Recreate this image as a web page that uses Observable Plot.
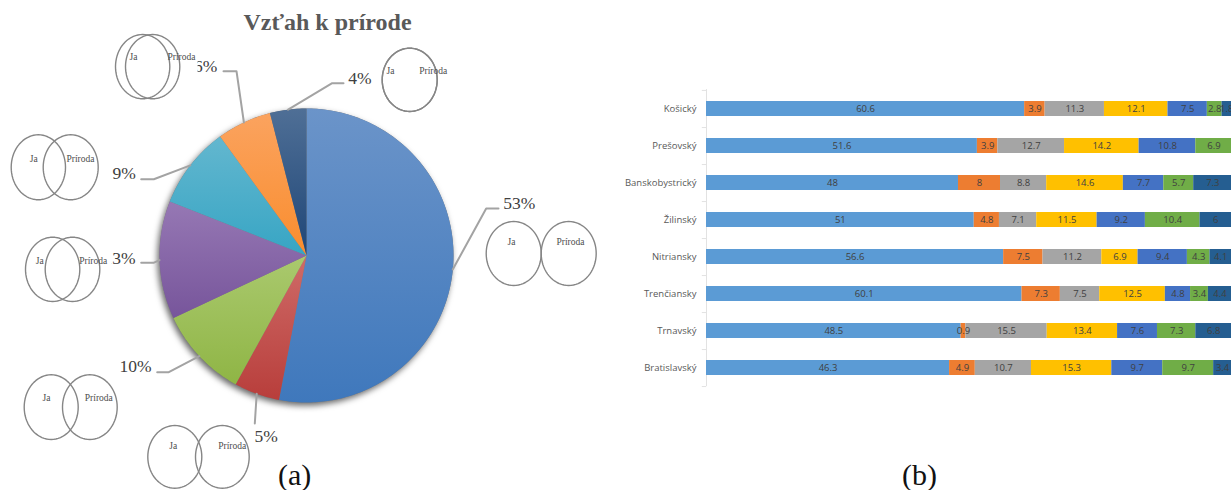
<!DOCTYPE html>
<html lang="sk">
<head>
<meta charset="utf-8">
<script src="https://cdn.jsdelivr.net/npm/d3@7"></script>
<script src="https://cdn.jsdelivr.net/npm/@observablehq/plot@0.6"></script>
<style>
  html, body { margin: 0; padding: 0; background: #fff; overflow: hidden; }
  #page { position: relative; width: 1231px; height: 490px; overflow: hidden; }
  #pie, #bars { position: absolute; top: 0; }
  #pie { left: 0; }
  #bars { left: 620px; }
  svg { display: block; background: transparent; }
  .pie-shadow { filter: drop-shadow(-2px 3px 3px rgba(0,0,0,.6)); }
  .caption { position: absolute; top: 460px; font: 30px/30px "Liberation Serif", serif; color: #111; }
</style>
</head>
<body>
<div id="page">
  <div id="pie"></div>
  <div id="bars"></div>
  <div class="caption" style="left:278px">(a)</div>
  <div class="caption" style="left:902px">(b)</div>
</div>
<script>
// Pie: relationship to nature, one slice per Venn response
const shares = [53, 5, 10, 13, 9, 6, 4];
const sliceTop = ["#6b94c9", "#cf6b68", "#aac96e", "#9678b4", "#63b7cf", "#fba35f", "#4f6f96"];
const sliceBottom = ["#3f78bc", "#b83e3b", "#8fb545", "#77559b", "#37a5c4", "#f98d2e", "#1f4677"];

// Venn glyph for each response: circle extents and label anchors, in chart pixels
const vennLeftX = [[485.7, 540.7], [147.3, 201.3], [23.7, 77.7], [25, 79.3], [10.7, 65], [115, 169.3], [381.7, 436.7]];
const vennRightX = [[540.7, 595.7], [195, 248.7], [62, 116.7], [44.7, 99.3], [42.7, 97.7], [125, 179.3], [381.7, 436.7]];
const vennY = [[221, 285], [425, 487.7], [374.3, 439], [236.7, 301], [134.3, 199.3], [34, 98.3], [47.7, 111]];
const vennJa = [[511, 241], [172.7, 445.7], [46, 397], [39.3, 260], [33.3, 158.3], [133, 56.7], [390, 70.3]];
const vennPriroda = [[570, 241], [231.7, 445.7], [98.3, 397], [92.7, 260], [80, 158], [181, 56], [432.7, 70.3]];
// White patch behind each glyph that hides whatever runs underneath it
const vennPatch = [null, null, null, [25, 111.5], null, [115, 197.5], null];

// Leader elbows and label anchors, in chart pixels
const elbows = [[[485.7, 208], [498, 208]], [[254.3, 423]], [[168.3, 371.7], [156.7, 371.7]], [[153, 262.3], [140.7, 262.3]], [[153.3, 178.7], [140.7, 178.7]], [[236, 70.7], [223, 70.7]], [[331.7, 82.7], [343, 82.7]]];
const labelAt = [[502.7, 203], [254, 436], [119, 366], [103, 258], [112, 173], [193.5, 66], [347.7, 78]];

const cx = 306, cy = 255, radius = 147;
const arcs = d3.pie().sort(null)(shares);
const polar = (a, r) => [cx + r * Math.sin(a), cy - r * Math.cos(a)];

const slicePts = arcs.flatMap((arc, i) => {
  const n = Math.max(4, Math.ceil((arc.endAngle - arc.startAngle) * 60));
  const rim = d3.range(n + 1).map(k => polar(arc.startAngle + (arc.endAngle - arc.startAngle) * k / n, radius));
  return [[cx, cy], ...rim].map(([x, y]) => ({x, y, i}));
});
const rimPts = d3.range(180).map(k => {
  const [x, y] = polar(k / 180 * 2 * Math.PI, radius);
  return {x, y};
});
const leaderPts = arcs.flatMap((arc, i) =>
  [polar((arc.startAngle + arc.endAngle) / 2, radius), ...elbows[i]].map(([x, y]) => ({x, y, i})));
const labels = shares.map((v, i) => ({x: labelAt[i][0], y: labelAt[i][1], text: `${v}%`}));

const vennCircles = [];
[vennLeftX, vennRightX].forEach((extents, side) => extents.forEach((ext, i) => {
  const mx = (ext[0] + ext[1]) / 2, rx = (ext[1] - ext[0]) / 2;
  const my = (vennY[i][0] + vennY[i][1]) / 2, ry = (vennY[i][1] - vennY[i][0]) / 2;
  d3.range(72).forEach(k => {
    const t = k / 72 * 2 * Math.PI;
    vennCircles.push({x: mx + rx * Math.cos(t), y: my + ry * Math.sin(t), id: `${i}-${side}`});
  });
}));
const vennText = [
  ...vennJa.map(([x, y]) => ({x, y, text: "Ja"})),
  ...vennPriroda.map(([x, y]) => ({x, y, text: "Príroda"}))
];
const patches = vennPatch.flatMap((p, i) => p ? [{x1: p[0], x2: p[1], y1: vennY[i][0], y2: vennY[i][1]}] : []);

// Vertical gradients for the slices, referenced by fill
const gradients = () => {
  const defs = d3.create("svg:defs");
  shares.forEach((_, i) => {
    const g = defs.append("linearGradient").attr("id", `slice${i}`)
      .attr("x1", 0).attr("y1", 0).attr("x2", 0).attr("y2", 1);
    g.append("stop").attr("offset", "0%").attr("stop-color", sliceTop[i]);
    g.append("stop").attr("offset", "100%").attr("stop-color", sliceBottom[i]);
  });
  return defs.node();
};

document.getElementById("pie").append(Plot.plot({
  width: 620, height: 490, margin: 0,
  x: {domain: [0, 620], range: [0, 620], axis: null},
  y: {domain: [0, 490], range: [0, 490], axis: null},
  style: {overflow: "visible"},
  marks: [
    gradients,
    Plot.text(["Vzťah k prírode"], {
      x: () => 327, y: () => 22, fontFamily: "Liberation Serif", fontSize: 24, fontWeight: "bold", fill: "#595959"
    }),
    Plot.line(rimPts, {x: "x", y: "y", fill: "#777", stroke: "none", curve: "linear-closed", className: "pie-shadow"}),
    ...shares.map((_, i) => Plot.line(slicePts.filter(d => d.i === i), {
      x: "x", y: "y", fill: `url(#slice${i})`, stroke: "none", curve: "linear-closed"
    })),
    Plot.line(leaderPts, {x: "x", y: "y", z: "i", stroke: "#a3a3a3", strokeWidth: 2, curve: "linear"}),
    Plot.text(labels, {
      x: "x", y: "y", text: "text", textAnchor: "start", fontFamily: "Liberation Serif", fontSize: 17.5, fill: "#404040"
    }),
    Plot.rect(patches, {x1: "x1", x2: "x2", y1: "y1", y2: "y2", fill: "white"}),
    Plot.line(vennCircles, {x: "x", y: "y", z: "id", stroke: "#868686", strokeWidth: 1.4, curve: "linear-closed"}),
    Plot.text(vennText, {
      x: "x", y: "y", text: "text", fontFamily: "Liberation Serif", fontSize: 9.5, fill: "#4d4d4d"
    })
  ]
}));

// Stacked bars: share per region
const regions = ["Košický", "Prešovský", "Banskobystrický", "Žilinský", "Nitriansky", "Trenčiansky", "Trnavský", "Bratislavský"];
const series1 = [60.6, 51.6, 48, 51, 56.6, 60.1, 48.5, 46.3];
const series2 = [3.9, 3.9, 8, 4.8, 7.5, 7.3, 0.9, 4.9];
const series3 = [11.3, 12.7, 8.8, 7.1, 11.2, 7.5, 15.5, 10.7];
const series4 = [12.1, 14.2, 14.6, 11.5, 6.9, 12.5, 13.4, 15.3];
const series5 = [7.5, 10.8, 7.7, 9.2, 9.4, 4.8, 7.6, 9.7];
const series6 = [2.8, 6.9, 5.7, 10.4, 4.3, 3.4, 7.3, 9.7];
const series7 = [1.8, null, 7.3, 6, 4.1, 4.4, 6.8, 3.4];
const seriesColors = ["#5b9bd5", "#ed7d31", "#a5a5a5", "#ffc000", "#4472c4", "#70ad47", "#255e91"];

const allSeries = [series1, series2, series3, series4, series5, series6, series7];
const rows = regions.flatMap((region, r) => {
  let start = 0;
  return allSeries.flatMap((values, s) => {
    const value = values[r];
    if (value == null) return [];
    const row = {region, s, value, x1: start, x2: start + value};
    start += value;
    return [row];
  });
});

const rowStep = 37.14;
const plotTop = 89.1;
document.getElementById("bars").append(Plot.plot({
  width: 611, height: 490,
  marginLeft: 86, marginRight: 0, marginTop: plotTop, marginBottom: 490 - plotTop - rowStep * regions.length,
  x: {domain: [0, 100], axis: null},
  y: {domain: regions, paddingInner: 0.6, paddingOuter: 0.3, axis: null},
  color: {domain: d3.range(7), range: seriesColors},
  marks: [
    Plot.ruleX([0], {stroke: "#e2e2e2"}),
    Plot.ruleY(regions, {y: d => d, x1: -0.8, x2: 0, dy: rowStep / 2, stroke: "#e2e2e2"}),
    Plot.ruleY(regions.slice(0, 1), {y: d => d, x1: -0.8, x2: 0, dy: -rowStep / 2, stroke: "#e2e2e2"}),
    Plot.barX(rows, {x1: "x1", x2: "x2", y: "region", fill: "s"}),
    Plot.text(rows, {
      x: d => (d.x1 + d.x2) / 2, y: "region", text: d => String(d.value),
      fontFamily: "Open Sans", fontSize: 9.5, fill: "#404040"
    }),
    Plot.axisY({
      anchor: "left", tickSize: 0, tickPadding: 10, label: null,
      fontFamily: "Open Sans", fontSize: 9.5, color: "#595959"
    })
  ]
}));
</script>
</body>
</html>
